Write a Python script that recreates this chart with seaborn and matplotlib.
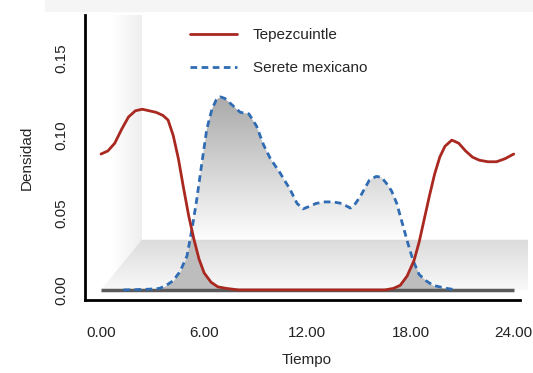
import numpy as np
import pandas as pd
import seaborn as sns
import matplotlib.pyplot as plt
from matplotlib.patches import Polygon, Rectangle
from matplotlib.colors import to_rgb

#%% data
tepe_hours = [0.0, 0.4, 0.8, 1.2, 1.6, 2.0, 2.4, 2.8, 3.2, 3.6, 3.9, 4.2, 4.5, 4.8, 5.1, 5.4,
              5.7, 6.0, 6.4, 6.8, 7.3, 8.0, 10.0, 12.0, 14.0, 16.5, 17.0, 17.4, 17.8, 18.2,
              18.5, 18.8, 19.1, 19.4, 19.7, 20.0, 20.4, 20.8, 21.2, 21.6, 22.0, 22.5, 23.0,
              23.5, 24.0]
tepe_dens = [0.088, 0.090, 0.095, 0.104, 0.112, 0.116, 0.117, 0.116, 0.115, 0.113, 0.110,
             0.100, 0.085, 0.066, 0.048, 0.033, 0.020, 0.011, 0.005, 0.002, 0.001, 0.0, 0.0,
             0.0, 0.0, 0.0, 0.001, 0.003, 0.009, 0.019, 0.031, 0.046, 0.061, 0.075, 0.086,
             0.093, 0.097, 0.095, 0.090, 0.086, 0.084, 0.083, 0.083, 0.085, 0.088]

serete_hours = [1.3, 2.0, 2.8, 3.4, 3.8, 4.2, 4.6, 5.0, 5.3, 5.56, 5.85, 6.15, 6.45, 6.7, 6.95,
                7.2, 7.5, 7.8, 8.1, 8.6, 9.05, 9.45, 9.85, 10.4, 11.0, 11.4, 11.75, 12.1, 12.5,
                13.0, 13.5, 14.0, 14.5, 14.8, 15.1, 15.6, 16.0, 16.3, 16.6, 16.9, 17.2, 17.5,
                17.85, 18.15, 18.5, 18.9, 19.3, 19.7, 20.1, 20.7]
serete_dens = [0.0, 0.0002, 0.0005, 0.001, 0.003, 0.006, 0.012, 0.022, 0.040, 0.058, 0.081,
               0.104, 0.117, 0.123, 0.125, 0.124, 0.121, 0.118, 0.115, 0.114, 0.106, 0.094,
               0.085, 0.076, 0.065, 0.056, 0.0525, 0.054, 0.056, 0.057, 0.057, 0.056, 0.053,
               0.056, 0.061, 0.071, 0.0735, 0.073, 0.069, 0.064, 0.056, 0.044, 0.030, 0.019,
               0.010, 0.006, 0.003, 0.002, 0.001, 0.0]

x_ticks = [0, 6, 12, 18, 24]
x_labels = ['0.00', '6.00', '12.00', '18.00', '24.00']
y_ticks = [0.0, 0.05, 0.10, 0.15]
y_labels = ['0.00', '0.05', '0.10', '0.15']

red = '#a9281f'
blue = '#2f6cb3'

#%% style
sns.set_style('white')
plt.rcParams['font.family'] = ['Liberation Sans', 'DejaVu Sans']
plt.rcParams['font.size'] = 11

df_tepe = pd.DataFrame({'hora': tepe_hours, 'dens': tepe_dens})
df_serete = pd.DataFrame({'hora': serete_hours, 'dens': serete_dens})

fig = plt.figure(figsize=(5.33, 3.73), dpi=100)
ax = fig.add_axes([85 / 533, 73 / 373, (528 - 85) / 533, (300 - 15) / 373])
x_lo, x_hi = -0.93, 24.83
y_lo, y_hi = -0.0065, 0.178
floor_top = 0.0325

# faint band at top of figure
fig.patches.append(Rectangle((45 / 533, 1 - 11 / 373), 488 / 533, 11 / 373,
                             transform=fig.transFigure, color='#f5f5f5', zorder=0))

# back wall (horizontal gradient)
wall = np.linspace(1.0, 0.935, 50)
wall_img = np.repeat(wall[None, :, None], 3, axis=2) * np.ones((2, 50, 3))
ax.imshow(wall_img, extent=[0.64, 2.38, 0, y_hi], aspect='auto', origin='lower',
          interpolation='bilinear', zorder=0)

# floor (vertical gradient clipped to trapezoid)
floor = np.linspace(0.975, 0.86, 50)
floor_img = np.repeat(floor[:, None, None], 3, axis=2) * np.ones((50, 2, 3))
im = ax.imshow(floor_img, extent=[0, x_hi, 0, floor_top], aspect='auto', origin='lower',
               interpolation='bilinear', zorder=1)
floor_poly = Polygon([(0, 0), (2.38, floor_top), (x_hi, floor_top), (x_hi, 0)],
                     closed=True, facecolor='none', edgecolor='none')
ax.add_patch(floor_poly)
im.set_clip_path(floor_poly)

# gradient fill under serete curve
poly = ax.fill_between(serete_hours, serete_dens, 0, color='none', lw=0)
grad = np.zeros((100, 2, 4))
grad[..., :3] = to_rgb('#a9a9a9')
grad[..., 3] = np.clip(np.linspace(-0.32, 1.0, 100), 0, 1)[:, None]
gim = ax.imshow(grad, extent=[0, 24, 0, 0.126], aspect='auto', origin='lower',
                interpolation='bilinear', zorder=2)
gim.set_clip_path(poly.get_paths()[0], transform=ax.transData)

# overlap area
grid = np.union1d(tepe_hours, serete_hours)
overlap = np.minimum(np.interp(grid, tepe_hours, tepe_dens),
                     np.interp(grid, serete_hours, serete_dens, left=0, right=0))
ax.fill_between(grid, overlap, 0, color='#bdbdbd', lw=0, zorder=3)

# baseline
ax.plot([0, 24], [0, 0], color='#5a5a5a', lw=2.5, zorder=4, solid_capstyle='butt')

sns.lineplot(data=df_tepe, x='hora', y='dens', ax=ax, color=red, lw=2,
             label='Tepezcuintle', zorder=6)
sns.lineplot(data=df_serete, x='hora', y='dens', ax=ax, color=blue, lw=2,
             label='Serete mexicano', zorder=5)
ax.lines[-1].set_dashes([2.4, 1.6])

ax.set_xlim(x_lo, x_hi)
ax.set_ylim(y_lo, y_hi)
ax.set_xticks(x_ticks)
ax.set_xticklabels(x_labels)
ax.set_yticks(y_ticks)
ax.set_yticklabels(y_labels, rotation=90, va='center')
ax.set_xlabel('Tiempo', labelpad=9)
ax.set_ylabel('Densidad', labelpad=15)

for s in ['top', 'right']:
    ax.spines[s].set_visible(False)
for s in ['left', 'bottom']:
    ax.spines[s].set_linewidth(2)
    ax.spines[s].set_color('black')
ax.spines['bottom'].set_bounds(x_lo, 24.35)
ax.tick_params(axis='both', direction='out', length=7, width=1.8, color='black',
               labelcolor='#222222')
ax.tick_params(axis='x', pad=12)
ax.tick_params(axis='y', pad=5)
ax.patch.set_alpha(0)

handles, labels = ax.get_legend_handles_labels()
handles[1].set_dashes([2.4, 1.6])
leg = ax.legend(handles, labels, loc='upper left', frameon=False,
                bbox_to_anchor=(190 / 533, 1 - 28 / 373), bbox_transform=fig.transFigure,
                borderaxespad=0, borderpad=0, handlelength=3.1, handletextpad=1.0,
                labelspacing=1.25)

plt.savefig('out.png', dpi=100)
plt.close()
